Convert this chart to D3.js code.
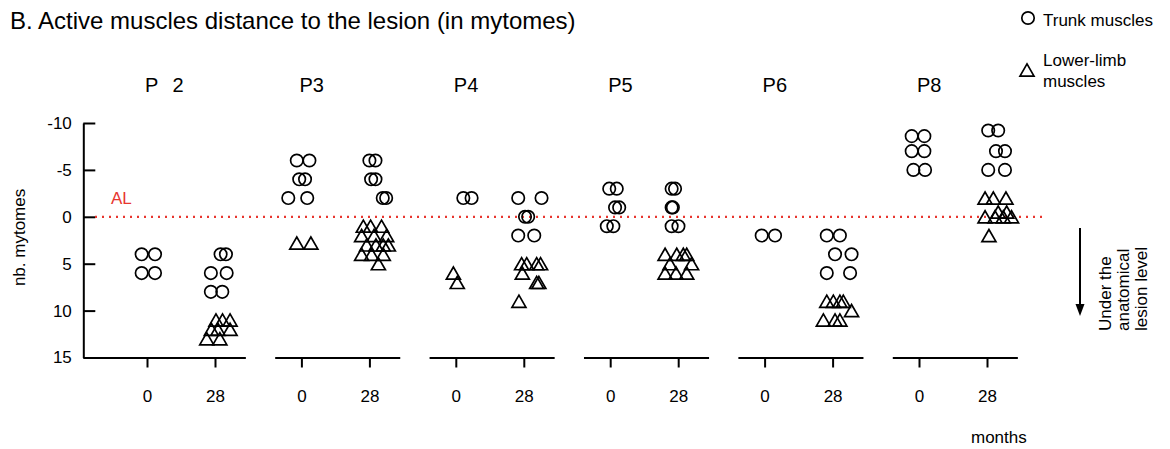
<!DOCTYPE html>
<html>
<head>
<meta charset="utf-8">
<script src="https://cdn.jsdelivr.net/npm/d3@7"></script>
<style>
  body { margin: 0; background: #fff; }
  svg { display: block; font-family: "Liberation Sans", Arial, sans-serif; }
</style>
</head>
<body>
<svg id="chart"></svg>
<script>
const panels = ["P 2", "P3", "P4", "P5", "P6", "P8"];
const months = [0, 28];
const yTicks = [-10, -5, 0, 5, 10, 15];

// [patient, months (as plotted, spread sideways), distance in mytomes]
const trunkMuscles = [
  ["P 2", -2.2, 4], ["P 2", 3.3, 4], ["P 2", -2.2, 6], ["P 2", 3.3, 6],
  ["P 2", 30.3, 4], ["P 2", 32.5, 4], ["P 2", 26.3, 6], ["P 2", 32.8, 6], ["P 2", 26.3, 8], ["P 2", 31, 8],
  ["P3", -1.9, -6], ["P3", 3.3, -6], ["P3", -0.9, -4], ["P3", 1.5, -4], ["P3", -5.4, -2], ["P3", 2.4, -2],
  ["P3", 28, -6], ["P3", 30.5, -6], ["P3", 28.7, -4], ["P3", 30.5, -4], ["P3", 33.5, -2], ["P3", 34.9, -2],
  ["P4", 3.1, -2], ["P4", 6.5, -2],
  ["P4", 25.7, -2], ["P4", 35.3, -2], ["P4", 28.5, 0], ["P4", 29.8, 0], ["P4", 25.7, 2], ["P4", 32.3, 2],
  ["P5", -0.4, -3], ["P5", 2.7, -3], ["P5", 2, -1], ["P5", 3.7, -1], ["P5", -1.4, 1], ["P5", 1.3, 1],
  ["P5", 25.3, -3], ["P5", 26.7, -3], ["P5", 25.3, -1], ["P5", 25.8, -1], ["P5", 25.3, 1], ["P5", 28.1, 1],
  ["P6", -1.2, 2], ["P6", 4.3, 2],
  ["P6", 25.6, 2], ["P6", 31, 2], ["P6", 29, 4], ["P6", 35.8, 4], ["P6", 25.6, 6], ["P6", 35.2, 6],
  ["P8", -3, -8.6], ["P8", 2.2, -8.6], ["P8", -3, -7], ["P8", 2.2, -7], ["P8", -2.3, -5], ["P8", 2.5, -5],
  ["P8", 28.5, -9.2], ["P8", 32.6, -9.2], ["P8", 31.7, -7], ["P8", 35.4, -7], ["P8", 28.5, -5], ["P8", 35.4, -5]
];

const lowerLimbMuscles = [
  ["P 2", 28.4, 11], ["P 2", 31.1, 11], ["P 2", 34.2, 11], ["P 2", 26.5, 12], ["P 2", 29.2, 12],
  ["P 2", 34.2, 12], ["P 2", 24.6, 13], ["P 2", 30, 13],
  ["P3", -1.9, 2.8], ["P3", 3.9, 2.8],
  ["P3", 25.5, 1], ["P3", 28.5, 1], ["P3", 33, 1], ["P3", 24.8, 2], ["P3", 29.9, 2], ["P3", 35.1, 2],
  ["P3", 26.9, 3], ["P3", 30.7, 3], ["P3", 33.7, 3], ["P3", 35.8, 3], ["P3", 24.8, 4], ["P3", 28.9, 4],
  ["P3", 33.7, 4], ["P3", 31.7, 5],
  ["P4", -1, 6], ["P4", 0.6, 7],
  ["P4", 27.1, 5], ["P4", 29.2, 5], ["P4", 33.3, 5], ["P4", 34.9, 5], ["P4", 27.4, 6], ["P4", 33.3, 7],
  ["P4", 34.2, 7], ["P4", 26, 9],
  ["P5", 22.6, 4], ["P5", 27.4, 4], ["P5", 30.1, 4], ["P5", 31.5, 4], ["P5", 24.6, 5], ["P5", 33.5, 5],
  ["P5", 22.6, 6], ["P5", 27.1, 6], ["P5", 31.5, 6],
  ["P6", 25.6, 9], ["P6", 28.3, 9], ["P6", 31, 9], ["P6", 32.4, 9], ["P6", 35.8, 10], ["P6", 24.2, 11],
  ["P6", 29, 11], ["P6", 31, 11],
  ["P8", 27.2, -2], ["P8", 30.6, -2], ["P8", 35.8, -2], ["P8", 32.6, -0.5], ["P8", 36.1, -0.5],
  ["P8", 27.2, 0], ["P8", 31.3, 0], ["P8", 34.7, 0], ["P8", 38.1, 0], ["P8", 28.8, 2]
];

const width = 1170, height = 449;
const font = 17;
const red = "#e8362f";

const svg = d3.select("#chart").attr("width", width).attr("height", height);

const y = d3.scaleLinear().domain([-10, 15]).range([123, 357.5]);
const yAxisX = 83.3;

// one x scale per patient, 28 months = 68px
const panelX = d3.scalePoint().domain(panels).range([147, 919]);
const pxPerMonth = 68 / 28;
const xScales = {};
panels.forEach((p, i) => {
  const t0 = panelX(p);
  const lo = i === 0 ? (yAxisX - t0) / pxPerMonth : -11;
  const hi = 40.5;
  xScales[p] = d3.scaleLinear().domain([lo, hi]).range([t0 + lo * pxPerMonth, t0 + hi * pxPerMonth]);
});

// title
svg.append("text")
  .attr("x", 10).attr("y", 28.5)
  .attr("font-size", 24)
  .text("B. Active muscles distance to the lesion (in mytomes)");

// patient labels
svg.selectAll(".plabel").data(panels).join("text")
  .attr("class", "plabel")
  .attr("x", d => panelX(d) - 2)
  .attr("y", 91.5)
  .attr("font-size", 20)
  .attr("word-spacing", d => d === "P 2" ? 9 : 0)
  .style("white-space", "pre")
  .text(d => d);

// y axis
const yAxis = svg.append("g")
  .attr("transform", `translate(${yAxisX},0)`)
  .call(d3.axisLeft(y).tickValues(yTicks).tickSizeInner(-12).tickSizeOuter(0)
    .tickPadding(11.5).tickFormat(d => String(d)));
yAxis.attr("font-size", font).attr("font-family", null);
yAxis.selectAll("path, line").attr("stroke", "#000").attr("stroke-width", 2);
yAxis.selectAll("text").attr("fill", "#000");

svg.append("text")
  .attr("transform", `translate(25,${y(2.2)}) rotate(-90)`)
  .attr("text-anchor", "middle")
  .attr("font-size", font)
  .text("nb. mytomes");

// x axes, one per patient
panels.forEach(p => {
  const g = svg.append("g")
    .attr("transform", `translate(0,${y(15)})`)
    .call(d3.axisBottom(xScales[p]).tickValues(months).tickSize(10).tickSizeOuter(0).tickPadding(22));
  g.attr("font-size", font).attr("font-family", null);
  g.selectAll("path, line").attr("stroke", "#000").attr("stroke-width", 2);
  g.selectAll("text").attr("fill", "#000");
});

svg.append("text")
  .attr("x", 971).attr("y", 443)
  .attr("font-size", font)
  .text("months");

// anatomical lesion level
svg.append("line")
  .attr("x1", 95).attr("x2", 1047)
  .attr("y1", y(0)).attr("y2", y(0))
  .attr("stroke", red).attr("stroke-width", 2.2)
  .attr("stroke-dasharray", "2,5");

svg.append("text")
  .attr("x", 111).attr("y", 204)
  .attr("font-size", font)
  .attr("fill", red)
  .text("AL");

// markers
const triSide = 14;
const triArea = Math.pow(triSide / (2 * Math.sqrt(3)), 2) * Math.sqrt(3) * 3;
const triShift = triSide / (2 * Math.sqrt(3)) / 2; // centre the bounding box
const triangle = d3.symbol().type(d3.symbolTriangle).size(triArea);
const r = 6.2;

svg.append("g").selectAll("circle").data(trunkMuscles).join("circle")
  .attr("cx", d => xScales[d[0]](d[1]))
  .attr("cy", d => y(d[2]))
  .attr("r", r)
  .attr("fill", "none")
  .attr("stroke", "#000")
  .attr("stroke-width", 1.7);

svg.append("g").selectAll("path").data(lowerLimbMuscles).join("path")
  .attr("d", triangle)
  .attr("transform", d => `translate(${xScales[d[0]](d[1])},${y(d[2]) + triShift})`)
  .attr("fill", "none")
  .attr("stroke", "#000")
  .attr("stroke-width", 1.7)
  .attr("stroke-linejoin", "miter");

// legend
svg.append("circle")
  .attr("cx", 1028).attr("cy", 18).attr("r", r)
  .attr("fill", "none").attr("stroke", "#000").attr("stroke-width", 1.7);
svg.append("text").attr("x", 1043).attr("y", 26).attr("font-size", font).text("Trunk muscles");

svg.append("path")
  .attr("d", triangle)
  .attr("transform", `translate(1027,${70 + triShift})`)
  .attr("fill", "none").attr("stroke", "#000").attr("stroke-width", 1.7);
svg.append("text").attr("x", 1043).attr("y", 66).attr("font-size", font).text("Lower-limb");
svg.append("text").attr("x", 1043).attr("y", 87).attr("font-size", font).text("muscles");

// arrow: under the anatomical lesion level
svg.append("line")
  .attr("x1", 1080).attr("x2", 1080)
  .attr("y1", 228).attr("y2", 306)
  .attr("stroke", "#000").attr("stroke-width", 2);
svg.append("path")
  .attr("d", d3.line()([[1075.5, 304], [1084.5, 304], [1080, 316]]))
  .attr("fill", "#000");

const arrowLines = ["Under the", "anatomical", "lesion level"];
svg.selectAll(".arrowtxt").data(arrowLines).join("text")
  .attr("class", "arrowtxt")
  .attr("transform", (d, i) => `translate(${1111 + i * 18},331) rotate(-90)`)
  .attr("font-size", font)
  .text(d => d);
</script>
</body>
</html>
